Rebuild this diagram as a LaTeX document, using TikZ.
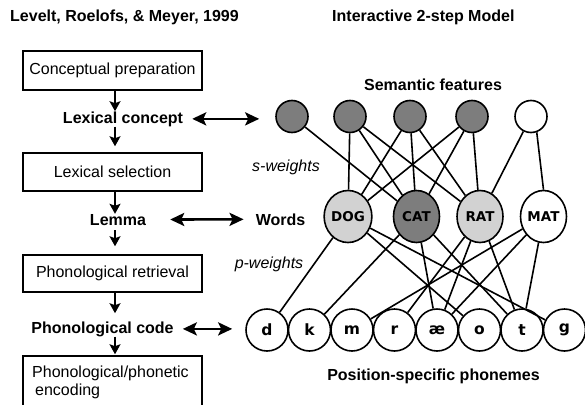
\documentclass[tikz,border=0pt]{standalone}
\usepackage{fontspec}
\setmainfont{Liberation Sans}
\newfontfamily\dvs{DejaVu Sans}
\usetikzlibrary{arrows.meta,shapes.geometric}
\definecolor{darkf}{RGB}{125,125,125}
\definecolor{lightf}{RGB}{210,210,210}
\newcommand\bigtxt{\fontsize{16}{18}\selectfont}
\begin{document}
\bigtxt
\begin{tikzpicture}[x=1pt,y=-1pt,
  stagebox/.style={draw, line width=1.5pt, minimum width=179pt, inner sep=0pt},
  lbl/.style={font=\bfseries, inner sep=0pt, anchor=base},
  feat/.style={circle, draw, line width=1.6pt, minimum size=32pt, inner sep=0pt},
  word/.style={ellipse, draw, line width=1.6pt, minimum width=46pt, minimum height=52pt, inner sep=0pt, font=\dvs\bfseries\fontsize{13.5}{15}\selectfont},
  phon/.style={circle, draw, line width=1.6pt, minimum size=42pt, inner sep=0pt, font=\dvs\bfseries\fontsize{15.5}{17}\selectfont},
  link/.style={line width=1.6pt},
  varr/.style={line width=1.6pt, -{Stealth[length=10pt,width=11pt,inset=2pt]}},
  darr/.style={line width=2.6pt, {Stealth[length=14pt,width=13pt,inset=3pt]}-{Stealth[length=14pt,width=13pt,inset=3pt]}}]
\useasboundingbox (0,0) rectangle (585,404);
\clip (0,0) rectangle (585,404);

% titles
\node[lbl, anchor=base west] (t1) at (10,21.5) {Levelt, Roelofs, \& Meyer, 1999};
\node[lbl, anchor=base west] (t2) at (332,21.5) {Interactive 2-step Model};

% left column
\node[stagebox, minimum height=39pt] (cp) at (112.5,70.5) {Conceptual preparation};
\node[stagebox, minimum height=38pt] (ls) at (112.5,172) {Lexical selection};
\node[stagebox, minimum height=37pt] (pr) at (112.5,273.5) {Phonological retrieval};
\node[stagebox, minimum height=60pt] (pe) at (112.5,386) {};
\node[inner sep=0pt, anchor=base west] (pe1) at (32,377) {Phonological/phonetic};
\node[inner sep=0pt, anchor=base west] (pe2) at (35,395) {encoding};

\node[lbl] (lc) at (123,123) {Lexical concept};
\node[lbl] (lem) at (118,225) {Lemma};
\node[lbl] (pc) at (102.5,333) {Phonological code};

\coordinate (ax) at (115,0);
\draw[varr] (cp.south -| ax) -- (lc.north -| ax);
\draw[varr, shorten >=6pt] (lc.south -| ax) -- (ls.north -| ax);
\draw[varr] (ls.south -| ax) -- (lem.north -| ax);
\draw[varr, shorten <=5pt, shorten >=8pt] (lem.south -| ax) -- (pr.north -| ax);
\draw[varr, shorten >=8pt] (pr.south -| ax) -- (pc.north -| ax);
\draw[varr, shorten >=1pt] (pc.south -| ax) -- (pe.north -| ax);

% right side labels
\node[lbl] (sf) at (433,90) {Semantic features};
\node[lbl] (wd) at (280.5,225) {Words};
\node[lbl] (psp) at (433.5,380) {Position-specific phonemes};
\node[inner sep=0pt, anchor=base, font=\itshape] (sw) at (286,171) {s-weights};
\node[inner sep=0pt, anchor=base, font=\itshape] (pw) at (269,268) {p-weights};

% semantic features
\node[feat, fill=darkf] (f1) at (292,116.5) {};
\node[feat, fill=darkf] (f2) at (350,116.5) {};
\node[feat, fill=darkf] (f3) at (410,116.5) {};
\node[feat, fill=darkf] (f4) at (472,116.5) {};
\node[feat, fill=white] (f5) at (531,116.5) {};

% words
\node[word, fill=lightf] (dog) at (348,216.5) {DOG};
\node[word, fill=darkf] (cat) at (416.5,216.5) {CAT};
\node[word, fill=lightf] (rat) at (480,216.5) {RAT};
\node[word, fill=white] (mat) at (543.5,216.5) {MAT};

% phonemes
\node[phon] (ph1) at (267,330) {d};
\node[phon] (ph2) at (309.5,330) {k};
\node[phon] (ph3) at (352,330) {m};
\node[phon] (ph4) at (394.5,330) {r};
\node[phon] (ph5) at (437,330) {æ};
\node[phon] (ph6) at (479.5,330) {o};
\node[phon] (ph7) at (522,330) {t};
\node[phon] (ph8) at (564.5,330) {g};

% s-weights
\draw[link] (f1) -- (cat);
\draw[link] (f2) -- (dog);
\draw[link] (f2) -- (cat);
\draw[link] (f2) -- (rat);
\draw[link] (f3) -- (dog);
\draw[link] (f3) -- (cat);
\draw[link] (f3) -- (rat);
\draw[link] (f4) -- (dog);
\draw[link] (f4) -- (cat);
\draw[link] (f4) -- (rat);
\draw[link] (f5) -- (rat);
\draw[link] (f5.-70) -- (mat.north);

% p-weights
\draw[link] (dog) -- (ph1);
\draw[link] (dog) -- (ph6);
\draw[link] (dog) -- (ph8);
\draw[link] (cat) -- (ph2);
\draw[link] (cat) -- (ph5);
\draw[link] (cat) -- (ph7);
\draw[link] (rat) -- (ph4);
\draw[link] (rat) -- (ph5);
\draw[link] (rat) -- (ph7);
\draw[link] (mat) -- (ph3);
\draw[link] (mat) -- (ph5);
\draw[link] (mat) -- (ph7);

% double arrows
\draw[darr, shorten <=9pt, shorten >=16pt] (lc.east) -- (lc.east -| f1.west);
\draw[darr, shorten <=24pt, shorten >=12pt] (lem.east) -- (wd.west);
\draw[darr, shorten <=9pt, shorten >=13pt] (pc.east) -- (pc.east -| ph1.west);
\end{tikzpicture}
\end{document}
